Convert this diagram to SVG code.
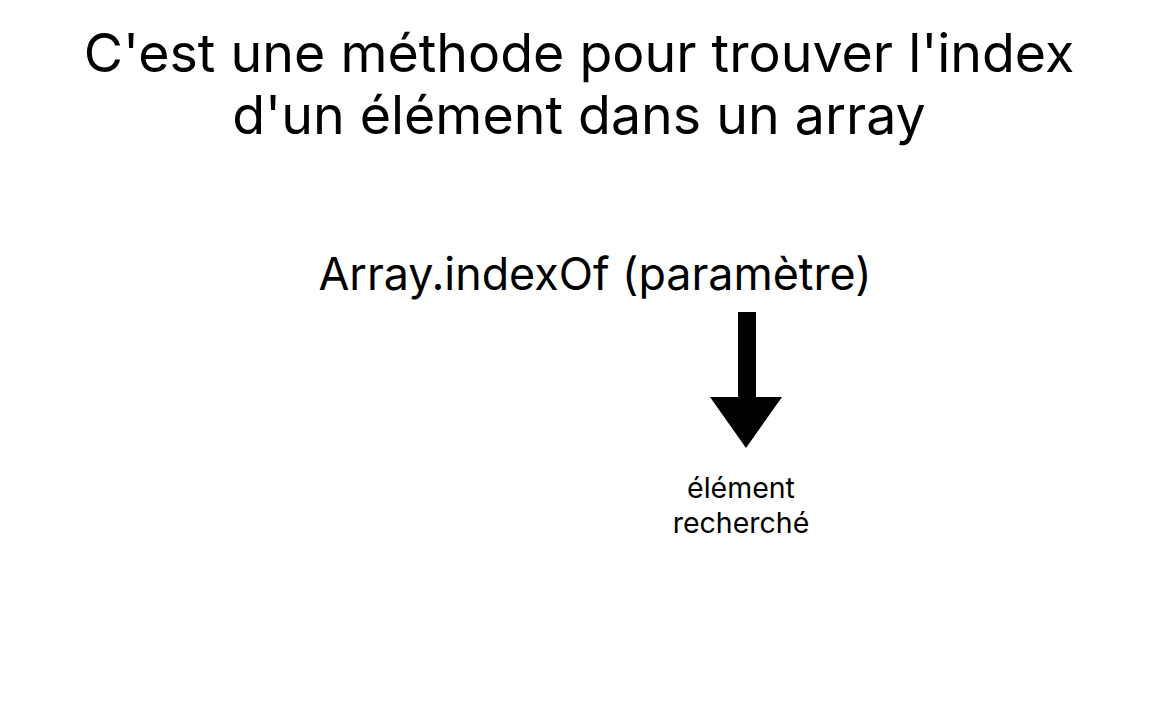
<svg xmlns="http://www.w3.org/2000/svg" width="1170" height="720" viewBox="0 0 1170 720">
<style>
text{font-family:Inter,"Noto Sans","Liberation Sans",sans-serif;fill:#000;text-anchor:middle}
.t{font-size:53.7px}
.m{font-size:44.8px}
.s{font-size:28.5px}
</style>
<rect width="1170" height="720" fill="#fff"/>
<g id="title">
<text class="t" x="579" y="72">C'est une méthode pour trouver l'index</text>
<text class="t" x="579" y="134">d'un élément dans un array</text>
</g>
<g id="method">
<text class="m" x="595" y="290">Array.indexOf (paramètre)</text>
</g>
<g id="connectors">
<path d="M738 312H756V397H782L746 448L710 397H738Z" fill="#000"/>
</g>
<g id="label">
<text class="s" x="741" y="498">élément</text>
<text class="s" x="741" y="533">recherché</text>
</g>
</svg>
